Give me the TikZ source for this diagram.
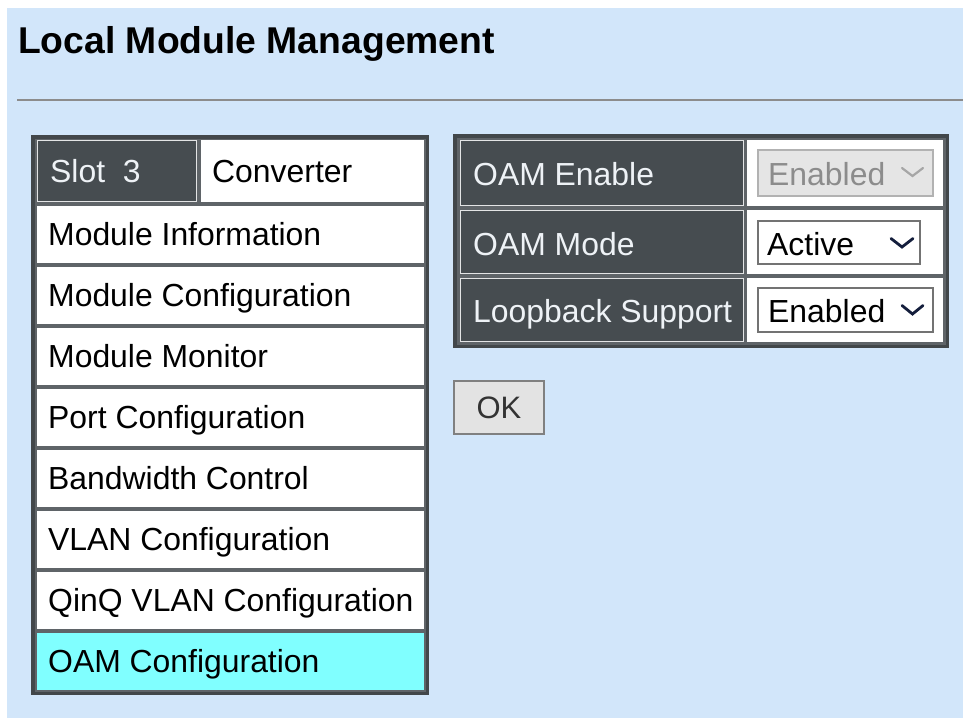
\documentclass[tikz,border=0pt]{standalone}
\usepackage{fontspec}
\setmainfont{Liberation Sans}
\definecolor{bgblue}{RGB}{210,230,250}
\definecolor{darkcell}{RGB}{70,76,80}
\definecolor{tableframe}{RGB}{66,71,74}
\definecolor{gapgrey}{RGB}{95,100,104}
\definecolor{selcyan}{RGB}{128,255,255}
\definecolor{rulegrey}{RGB}{140,140,140}
\definecolor{lighttext}{RGB}{238,242,246}
\definecolor{chev}{RGB}{20,30,60}
\begin{document}
\begin{tikzpicture}[x=1pt,y=-1pt,
  txt/.style={anchor=base west,inner sep=0pt,font=\fontsize{31.9}{36}\selectfont},
  lbl/.style={txt,text=lighttext},
  darkbox/.style={fill=darkcell,draw=white!85!darkcell,line width=1.2pt},
  ddbox/.style={fill=white,draw=black!55,line width=1.5pt},
  ddoff/.style={fill=black!10,draw=black!30,line width=1.5pt},
  chevron/.style={draw=chev,line width=2.8pt,line cap=round,line join=miter}]
\useasboundingbox (0,0) rectangle (963,718);
\fill[white] (0,0) rectangle (963,718);
\fill[bgblue] (7,8) rectangle (963,718);
% title
\node[txt,font=\fontsize{37.3}{42}\selectfont\bfseries] (title) at (18,53) {Local Module Management};
\draw[rulegrey,line width=1.5pt] (17,100) -- (963,100);
% left table
\fill[tableframe] (31,135) rectangle (429,695);
\fill[gapgrey] (35,138.5) rectangle (425.5,691.5);
\path[darkbox] (37.6,140.6) rectangle (196.4,201.4);
\fill[white] (201,140) rectangle (424,202);
\node[lbl] (slot) at (50,182) {Slot\ \ 3};
\node[txt] (conv) at (212,182) {Converter};
\foreach \i/\t/\n in {0/Module Information/mi,1/Module Configuration/mc,2/Module Monitor/mm,3/Port Configuration/pc,4/Bandwidth Control/bc,5/VLAN Configuration/vc,6/QinQ VLAN Configuration/qc}{
  \fill[white] (37,206+61*\i) rectangle (424,263+61*\i);
  \node[txt] (\n) at (48,245+61*\i) {\t};
}
\fill[selcyan] (37,633) rectangle (424,690);
\node[txt] (oc) at (48,672) {OAM Configuration};
% right table
\fill[tableframe] (453,134) rectangle (949,348);
\fill[gapgrey] (457,137.5) rectangle (945.5,344.5);
\foreach \a/\b in {140/206,210/274,278/342}{
  \path[darkbox] (460.6,\a+0.6) rectangle (743.4,\b-0.6);
  \fill[white] (747,\a) rectangle (943,\b);
}
\node[lbl] (oe) at (473,185.5) {OAM Enable};
\node[lbl] (om) at (473,255) {OAM Mode};
\node[lbl] (ls) at (473,322) {Loopback Support};
% dropdowns
\path[ddoff] (758,150) rectangle (933,196);
\node[txt,text=black!45] (dd1) at (768,185.5) {Enabled};
\draw[chevron,draw=black!35,line width=2.2pt] (902,168) -- (912.5,176) -- (923,168);
\path[ddbox] (758,221) rectangle (920,264);
\node[txt] (dd2) at (767,255) {Active};
\draw[chevron] (891,238.5) -- (902,247) -- (913,238.5);
\path[ddbox] (758,288) rectangle (933,332);
\node[txt] (dd3) at (768,322) {Enabled};
\draw[chevron] (902,305.5) -- (912.5,314) -- (923,305.5);
% OK button
\node[draw=black!50,fill=black!11,line width=1.5pt,minimum width=90pt,minimum height=53pt,inner sep=0pt,
  font=\fontsize{31}{36}\selectfont,text=black!80] (ok) at (499,407.5) {OK};
\end{tikzpicture}
\end{document}
